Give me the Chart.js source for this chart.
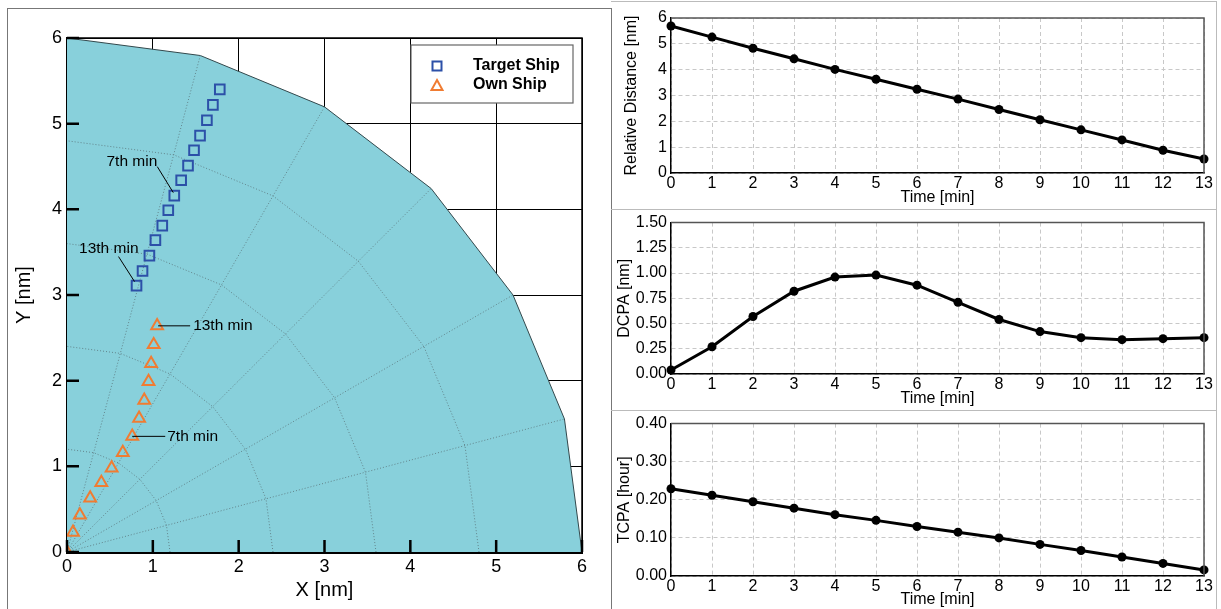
<!DOCTYPE html>
<html>
<head>
<meta charset="utf-8">
<script src="https://cdn.jsdelivr.net/npm/chart.js@4.4.1/dist/chart.umd.min.js"></script>
<style>
  body { margin: 0; background: #fff; }
  #page { position: relative; width: 1221px; height: 609px; overflow: hidden; }
  canvas { position: absolute; }
  .ln { position: absolute; }
</style>
</head>
<body>
<div id="page">
  <div class="ln" style="left:7px;top:8px;width:603px;height:620px;border:1px solid #777;"></div>
  <div class="ln" style="left:611px;top:1px;width:605px;height:1px;background:#bbb;"></div>
  <div class="ln" style="left:611px;top:209px;width:605px;height:1px;background:#bbb;"></div>
  <div class="ln" style="left:611px;top:410px;width:605px;height:1px;background:#bbb;"></div>
  <div class="ln" style="left:1216px;top:1px;width:1px;height:608px;background:#bbb;"></div>
  <canvas id="map" width="610" height="609" style="left:0;top:0;width:610px;height:609px;"></canvas>
  <canvas id="dist" width="606" height="209" style="left:611px;top:0;width:606px;height:209px;"></canvas>
  <canvas id="dcpa" width="606" height="201" style="left:611px;top:209px;width:606px;height:201px;"></canvas>
  <canvas id="tcpa" width="606" height="199" style="left:611px;top:410px;width:606px;height:199px;"></canvas>
</div>
<script>
// ship tracks [nm]
const targetX = [1.78, 1.70, 1.63, 1.55, 1.48, 1.41, 1.33, 1.25, 1.18, 1.11, 1.03, 0.96, 0.88, 0.81];
const targetY = [5.40, 5.22, 5.04, 4.86, 4.69, 4.51, 4.34, 4.16, 3.99, 3.81, 3.64, 3.46, 3.28, 3.11];
const ownX = [0.00, 0.07, 0.15, 0.27, 0.40, 0.52, 0.65, 0.76, 0.84, 0.90, 0.95, 0.98, 1.01, 1.05];
const ownY = [0.00, 0.23, 0.43, 0.63, 0.81, 0.98, 1.16, 1.35, 1.56, 1.77, 1.99, 2.20, 2.42, 2.64];

// sector grid
const sectorRadius = 6;
const ringRadii = [1.2, 2.4, 3.6, 4.8];
const gridAngles = [0, 15, 30, 45, 60, 75, 90];
const spokeAngles = [15, 30, 45, 60, 75];

// time series
const timeMin = [0, 1, 2, 3, 4, 5, 6, 7, 8, 9, 10, 11, 12, 13];
const relDistance = [5.69, 5.26, 4.83, 4.42, 4.01, 3.63, 3.24, 2.86, 2.46, 2.06, 1.67, 1.28, 0.88, 0.54];
const dcpaNm = [0.04, 0.27, 0.57, 0.82, 0.96, 0.98, 0.88, 0.71, 0.54, 0.42, 0.36, 0.34, 0.35, 0.36];
const tcpaHour = [0.229, 0.212, 0.195, 0.178, 0.161, 0.146, 0.130, 0.115, 0.100, 0.083, 0.067, 0.050, 0.033, 0.016];

Chart.defaults.font.family = '"Liberation Sans", Arial, Helvetica, sans-serif';
Chart.defaults.color = '#000';
Chart.defaults.animation = false;

const BLUE = '#2c50a8';
const ORANGE = '#f07c32';
const TEAL = '#88d0db';
const DOT = '#62858c';

const rad = d => d * Math.PI / 180;
const ring = r => gridAngles.map(a => ({ x: r * Math.cos(rad(a)), y: r * Math.sin(rad(a)) }));

const mapSets = [
  {
    label: 'Target Ship', data: targetX.map((x, i) => ({ x, y: targetY[i] })),
    pointStyle: 'rect', pointRadius: 6.8, borderColor: BLUE, backgroundColor: 'rgba(0,0,0,0)',
    borderWidth: 2, showLine: false, order: 0
  },
  {
    label: 'Own Ship', data: ownX.map((x, i) => ({ x, y: ownY[i] })),
    pointStyle: 'triangle', pointRadius: 6.8, borderColor: ORANGE, backgroundColor: 'rgba(0,0,0,0)',
    borderWidth: 2, showLine: false, clip: 0, order: 0
  }
];
ringRadii.forEach(r => mapSets.push({
  data: ring(r), showLine: true, pointRadius: 0, borderColor: DOT, borderWidth: 1,
  borderDash: [1, 2], fill: false, order: 5
}));
spokeAngles.forEach(a => mapSets.push({
  data: [{ x: 0, y: 0 }, { x: sectorRadius * Math.cos(rad(a)), y: sectorRadius * Math.sin(rad(a)) }],
  showLine: true, pointRadius: 0, borderColor: DOT, borderWidth: 1, borderDash: [1, 2], fill: false, order: 5
}));
mapSets.push({
  data: ring(sectorRadius).reverse(), showLine: true, pointRadius: 0,
  borderColor: '#33484c', borderWidth: 1, backgroundColor: TEAL, fill: 'origin', order: 10
});

const mapDecor = {
  id: 'mapDecor',
  afterDatasetsDraw(chart) {
    const { ctx, chartArea: a, scales: { x, y } } = chart;
    ctx.save();
    // thin frame on top / right
    ctx.strokeStyle = '#000';
    ctx.lineWidth = 1.5;
    ctx.beginPath();
    ctx.moveTo(a.left, a.top); ctx.lineTo(a.right, a.top); ctx.lineTo(a.right, a.bottom);
    ctx.stroke();
    // inward ticks
    ctx.lineWidth = 2.5;
    ctx.beginPath();
    x.ticks.forEach(t => {
      const px = x.getPixelForValue(t.value);
      ctx.moveTo(px, a.bottom); ctx.lineTo(px, a.bottom - 12);
    });
    y.ticks.forEach(t => {
      const py = y.getPixelForValue(t.value);
      ctx.moveTo(a.left, py); ctx.lineTo(a.left + 12, py);
    });
    ctx.stroke();

    // labels for 7th / 13th minute
    const tgt = chart.getDatasetMeta(0).data;
    const own = chart.getDatasetMeta(1).data;
    ctx.strokeStyle = '#000';
    ctx.lineWidth = 1;
    ctx.fillStyle = '#000';
    ctx.font = '15.5px "Liberation Sans", Arial, sans-serif';
    ctx.textBaseline = 'middle';
    const seg = (x1, y1, x2, y2) => { ctx.beginPath(); ctx.moveTo(x1, y1); ctx.lineTo(x2, y2); ctx.stroke(); };
    let p = tgt[7];
    seg(p.x - 17, p.y - 29, p.x - 1, p.y - 3);
    ctx.textAlign = 'right'; ctx.fillText('7th min', p.x - 17, p.y - 34);
    p = tgt[13];
    seg(p.x - 18, p.y - 29, p.x - 2, p.y - 4);
    ctx.fillText('13th min', p.x + 2, p.y - 37);
    ctx.textAlign = 'left';
    p = own[13];
    seg(p.x + 1, p.y, p.x + 33, p.y);
    ctx.fillText('13th min', p.x + 36, p.y);
    p = own[7];
    seg(p.x, p.y, p.x + 33, p.y);
    ctx.fillText('7th min', p.x + 35, p.y);

    // legend box
    const bw = 162, bh = 58;
    const bx = a.right - 9 - bw, by = a.top + 7;
    ctx.fillStyle = '#fff';
    ctx.fillRect(bx, by, bw, bh);
    ctx.strokeStyle = '#666';
    ctx.lineWidth = 1.2;
    ctx.strokeRect(bx, by, bw, bh);
    const mx = bx + 26;
    ctx.lineWidth = 2;
    ctx.strokeStyle = BLUE;
    ctx.strokeRect(mx - 4.5, by + 21 - 4.5, 9, 9);
    ctx.strokeStyle = ORANGE;
    ctx.beginPath();
    ctx.moveTo(mx, by + 35); ctx.lineTo(mx + 5.5, by + 45); ctx.lineTo(mx - 5.5, by + 45); ctx.closePath();
    ctx.stroke();
    ctx.fillStyle = '#000';
    ctx.font = 'bold 16px "Liberation Sans", Arial, sans-serif';
    ctx.textAlign = 'left';
    ctx.fillText(chart.data.datasets[0].label, bx + 62, by + 21);
    ctx.fillText(chart.data.datasets[1].label, bx + 62, by + 40);
    ctx.restore();
  }
};

new Chart(document.getElementById('map'), {
  type: 'scatter',
  data: { datasets: mapSets },
  plugins: [mapDecor],
  options: {
    responsive: false,
    layout: { padding: { top: 38, right: 28, left: 0, bottom: 0 } },
    plugins: { legend: { display: false }, tooltip: { enabled: false } },
    scales: {
      x: {
        type: 'linear', min: 0, max: 6,
        ticks: { stepSize: 1, padding: 4, font: { size: 18 } },
        grid: { color: '#000', lineWidth: 1, drawTicks: false },
        border: { color: '#000', width: 3 },
        title: { display: true, text: 'X [nm]', font: { size: 20 }, padding: { top: 0, bottom: 7 } },
        afterFit: s => { s.height = 57; }
      },
      y: {
        type: 'linear', min: 0, max: 6,
        ticks: { stepSize: 1, padding: 5, font: { size: 18 } },
        grid: { color: '#000', lineWidth: 1, drawTicks: false },
        border: { color: '#000', width: 3 },
        title: { display: true, text: 'Y [nm]', font: { size: 20 }, padding: { top: 12, bottom: 0 } },
        afterFit: s => { s.width = 67; }
      }
    }
  }
});

const frame = {
  id: 'frame',
  afterDatasetsDraw(chart) {
    const { ctx, chartArea: a } = chart;
    ctx.save();
    ctx.strokeStyle = '#555';
    ctx.lineWidth = 1.5;
    ctx.beginPath();
    ctx.moveTo(a.left, a.top); ctx.lineTo(a.right, a.top); ctx.lineTo(a.right, a.bottom);
    ctx.stroke();
    ctx.restore();
  }
};

function seriesChart(id, values, yMax, yStep, yTitle, digits, pad, titlePad) {
  new Chart(document.getElementById(id), {
    type: 'line',
    data: {
      datasets: [{
        data: timeMin.map((t, i) => ({ x: t, y: values[i] })),
        borderColor: '#000', backgroundColor: '#000', borderWidth: 3,
        pointRadius: 4.5, pointBackgroundColor: '#000', pointBorderWidth: 0,
        tension: 0, clip: false
      }]
    },
    plugins: [frame],
    options: {
      responsive: false,
      layout: { padding: { top: pad.top, right: 13, left: 0, bottom: 0 } },
      plugins: { legend: { display: false }, tooltip: { enabled: false } },
      scales: {
        x: {
          type: 'linear', min: 0, max: 13,
          ticks: { stepSize: 1, padding: 1, font: { size: 16 } },
          grid: { color: '#c8c8c8', lineWidth: 1, drawTicks: false },
          border: { color: '#000', width: 1.5, dash: [4, 3] },
          title: { display: true, text: 'Time [min]', font: { size: 16 }, padding: { top: 0, bottom: titlePad.x } },
          afterFit: s => { s.height = pad.xh; }
        },
        y: {
          min: 0, max: yMax,
          ticks: { stepSize: yStep, padding: 4, font: { size: 16 }, callback: v => v.toFixed(digits) },
          grid: { color: '#c8c8c8', lineWidth: 1, drawTicks: false },
          border: { color: '#000', width: 1.5, dash: [4, 3] },
          title: { display: true, text: yTitle, font: { size: 16 }, padding: { top: titlePad.y, bottom: 0 } },
          afterFit: s => { s.width = 60; }
        }
      }
    }
  });
}

seriesChart('dist', relDistance, 6, 1, 'Relative Distance [nm]', 0, { top: 18, xh: 36 }, { x: 2, y: 11 });
seriesChart('dcpa', dcpaNm, 1.5, 0.25, 'DCPA [nm]', 2, { top: 11, xh: 36 }, { x: 2, y: 4 });
seriesChart('tcpa', tcpaHour, 0.4, 0.1, 'TCPA [hour]', 2, { top: 11, xh: 33 }, { x: 0, y: 4 });
</script>
</body>
</html>
